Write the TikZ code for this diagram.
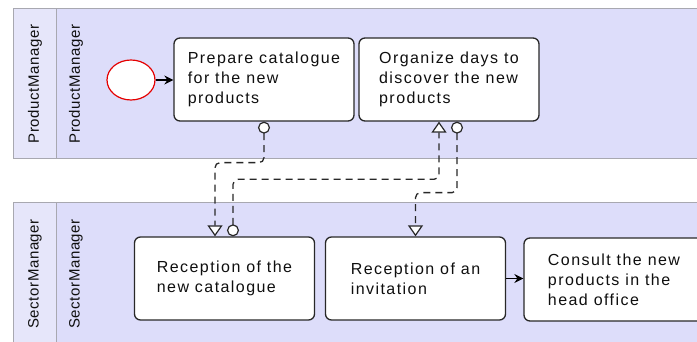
\documentclass[tikz,border=0pt]{standalone}
\usepackage{fontspec}
\setmainfont{Liberation Sans}[LetterSpace=9]
\newfontfamily\lanefont{Liberation Sans}[LetterSpace=4]
\usetikzlibrary{shapes.geometric,arrows.meta}
\definecolor{lanebg}{RGB}{221,221,250}
\definecolor{stripbg}{RGB}{230,230,250}
\definecolor{poolline}{RGB}{168,168,176}
\definecolor{boxline}{RGB}{40,40,40}
\definecolor{txt}{RGB}{15,15,15}
\tikzset{
  task/.style={draw=boxline, fill=white, rounded corners=6pt, minimum width=180pt,
    minimum height=83pt, align=left, inner sep=0pt, line width=1.3pt, text=txt,
    font=\fontsize{16}{20}\selectfont},
  lanelabel/.style={rotate=90, text=txt, inner sep=0pt, font=\lanefont\fontsize{15}{16}\selectfont},
  pool/.style={draw=poolline, line width=1pt},
  msg/.style={draw=boxline, line width=1.3pt, dash pattern=on 7pt off 5pt, rounded corners=5pt,
    {Circle[fill=white,length=12pt,width=12pt,line width=1.2pt]}-{Triangle[fill=white,length=11pt,width=15pt,line width=1.2pt]}},
  seq/.style={draw=black, line width=1.2pt, -{Stealth[length=9pt,width=9pt,inset=3pt]}},
  startev/.style={ellipse, draw=red!90!black, fill=white, line width=1.2pt, minimum width=48pt, minimum height=40pt, inner sep=0pt}
}
\begin{document}
\begin{tikzpicture}[x=1pt,y=-1pt]
\useasboundingbox (0,0) rectangle (697,342);
\clip (0,0) rectangle (697,342);
\fill[white] (0,0) rectangle (697,342);
% top pool
\fill[lanebg] (13,9) rectangle (712,159);
\fill[stripbg] (13,9) rectangle (56,159);
\draw[pool] (712,9) -- (13,9) -- (13,159) -- (712,159);
\draw[pool] (56,9) -- (56,159);
% bottom pool
\fill[lanebg] (13,203) rectangle (712,350);
\fill[stripbg] (13,203) rectangle (56,350);
\draw[pool] (712,203) -- (13,203) -- (13,350);
\draw[pool] (56,203) -- (56,350);
% lane labels
\node[lanelabel] (pmA) at (35,84) {ProductManager};
\node[lanelabel] (pmB) at (76,84) {ProductManager};
\node[lanelabel] (smA) at (35,274) {SectorManager};
\node[lanelabel] (smB) at (76,274) {SectorManager};
% nodes
\node[startev] (start) at (131,80) {};
\node[task] (t1) at (264,79.5) {Prepare catalogue\\for the new\\products};
\node[task] (t2) at (449,79.5) {Organize days to\\discover the new\\products};
\node[task] (t3) at (224.5,278.5) {Reception of the\\new catalogue};
\node[task] (t4) at (415.5,278.5) {Reception of an\\invitation};
\node[task] (t5) at (614,279.5) {Consult the new\\products in the\\head office};
% sequence flows
\draw[seq] (start) -- (t1.west |- start);
\draw[seq] (t4) -- (t5.west |- t4);
% message flows
\draw[msg] (t1.south) -- ++(0,41) -| ([xshift=-9.5pt]t3.north);
\draw[msg] ([xshift=8.5pt]t3.north) -- ++(0,-57) -| ([xshift=-10pt]t2.south);
\draw[msg] ([xshift=8pt]t2.south) -- ++(0,71) -| (t4.north);
\end{tikzpicture}
\end{document}
